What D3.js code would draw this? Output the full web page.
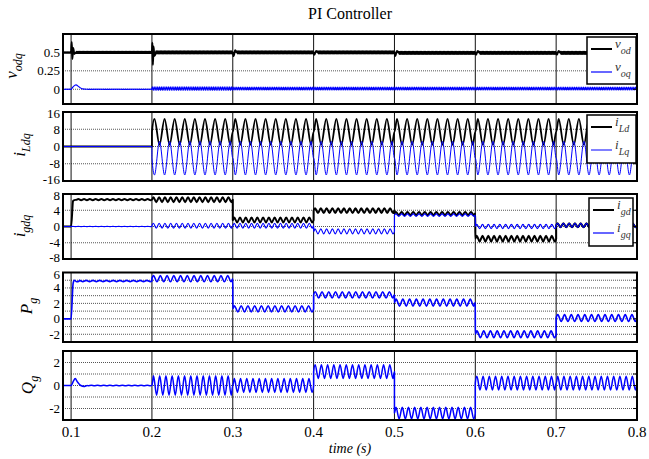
<!DOCTYPE html>
<html>
<head>
<meta charset="utf-8">
<script src="https://cdn.jsdelivr.net/npm/d3@7"></script>
<style>
  body { margin: 0; background: #fff; }
</style>
</head>
<body>
<script>
var width = 649, height = 459;

// segment edges shared by every series (s)
var tBreaks = [0.09, 0.1, 0.2, 0.3, 0.4, 0.5, 0.6, 0.7, 0.8];
var xTicks = [0.1, 0.2, 0.3, 0.4, 0.5, 0.6, 0.7, 0.8];

// v_odq : mean level and ripple half-amplitude per segment
var vodLevel  = [0.5, 0.5, 0.5, 0.5, 0.5, 0.495, 0.495, 0.495];
var vodRipple = [0.003, 0.008, 0.015, 0.015, 0.015, 0.015, 0.015, 0.015];
var voqLevel  = [0, 0, 0.01, 0.01, 0.01, 0.01, 0.01, 0.01];
var voqRipple = [0.002, 0.004, 0.025, 0.02, 0.02, 0.02, 0.02, 0.02];
var vodSpikes = [
  [[0.1, 0.5], [0.1008, 0.64], [0.1016, 0.41], [0.1026, 0.56], [0.104, 0.48], [0.106, 0.5]],
  [[0.2, 0.5], [0.2006, 0.63], [0.2012, 0.33], [0.202, 0.58], [0.203, 0.45], [0.205, 0.5]],
  [[0.3, 0.5], [0.301, 0.45], [0.303, 0.53], [0.305, 0.5]],
  [[0.4, 0.5], [0.401, 0.47], [0.403, 0.52], [0.405, 0.5]],
  [[0.5, 0.5], [0.501, 0.45], [0.503, 0.52], [0.505, 0.495]],
  [[0.6, 0.495], [0.601, 0.47], [0.603, 0.52], [0.605, 0.495]],
  [[0.7, 0.495], [0.701, 0.47], [0.703, 0.52], [0.705, 0.495]]
];
var voqSpikes = [
  [[0.1, 0], [0.103, 0.04], [0.106, 0.06], [0.11, 0.03], [0.114, 0.005], [0.12, 0]]
];

// i_Ldq
var iLdLevel  = [0, 0, 6.8, 6.8, 6.8, 6.8, 6.8, 6.8];
var iLdRipple = [0, 0, 6.0, 6.0, 6.0, 6.0, 6.0, 6.0];
var iLqLevel  = [0, 0, -5.4, -5.4, -5.4, -5.4, -5.4, -5.4];
var iLqRipple = [0, 0, 7.8, 7.8, 7.8, 7.8, 7.8, 7.8];

// i_gdq
var igdLevel  = [0, 6.6, 6.6, 1.6, 3.9, 3.2, -3.0, 0.3];
var igdRipple = [0, 0.15, 0.6, 0.6, 0.6, 0.4, 0.7, 0.5];
var igqLevel  = [0, 0, 0.2, 0.2, -1.2, 2.8, 0, 0.3];
var igqRipple = [0, 0.03, 0.6, 0.6, 0.6, 0.3, 0.5, 0.5];
var igdSpikes = [
  [[0.1, 0], [0.1025, 6.3], [0.104, 6.5], [0.107, 6.6]]
];

// P_g
var pgLevel  = [0, 4.9, 5.2, 1.3, 3.1, 2.1, -2.0, 0.1];
var pgRipple = [0, 0.08, 0.4, 0.4, 0.4, 0.45, 0.45, 0.45];
var pgSpikes = [
  [[0.1, 0], [0.1025, 4.6], [0.104, 5.0], [0.107, 4.8], [0.11, 4.9]]
];

// Q_g
var qgLevel  = [0, 0, 0, 0, 1.2, -2.4, 0.2, 0.2];
var qgRipple = [0, 0.02, 0.85, 0.6, 0.6, 0.5, 0.6, 0.6];
var qgSpikes = [
  [[0.1, 0], [0.103, 0.4], [0.105, 0.6], [0.108, 0.3], [0.112, 0], [0.116, -0.08], [0.12, 0]]
];

var serif = "'Liberation Serif', 'Times New Roman', serif";

var svg = d3.select("body").append("svg")
    .attr("width", width)
    .attr("height", height)
    .attr("font-family", serif);

var x = d3.scaleLinear().domain([0.09, 0.8]).range([63, 637]);

function buildSeries(level, ripple, cycles, sign, extra) {
  var pts = [];
  for (var i = 0; i < level.length; i++) {
    var t0 = tBreaks[i], t1 = tBreaks[i + 1];
    var n = Math.max(2, Math.round(cycles * (t1 - t0) / 0.1) * 2);
    var h = (t1 - t0) / n;
    pts.push([i === 0 ? t0 : t0 + 1e-5, level[i]]);
    if (ripple[i] > 0) {
      for (var k = 0; k < n; k++) {
        pts.push([t0 + (k + 0.5) * h, level[i] + sign * ripple[i] * (k % 2 ? -1 : 1)]);
      }
    }
    pts.push([t1, level[i]]);
  }
  (extra || []).forEach(function(g) {
    var a = g[0][0], b = g[g.length - 1][0];
    pts = pts.filter(function(p) { return p[0] < a || p[0] > b; }).concat(g);
  });
  pts.sort(function(p, q) { return p[0] - q[0]; });
  return pts;
}

var panels = [
  { top: 34, bottom: 104, domain: [-0.2, 0.75], ticks: [0, 0.25, 0.5], grid: [0, 0.25, 0.5],
    fmt: function(d) { return d === 0 ? "0" : String(d); },
    label: ["v", "odq"], labelPos: [17, 66],
    series: [
      { pts: buildSeries(vodLevel, vodRipple, 60, 1, vodSpikes), color: "#000", w: 2 },
      { pts: buildSeries(voqLevel, voqRipple, 45, 1, voqSpikes), color: "#0000ff", w: 1.1 }
    ],
    legend: { x: 587, y: 37, w: 49, h: 47, items: [["v", "od", "#000", 2], ["v", "oq", "#0000ff", 1.2]] } },
  { top: 112, bottom: 181, domain: [-16, 16], ticks: [-16, -8, 0, 8, 16], grid: [-8, 0, 8],
    fmt: String, label: ["i", "Ldq"], labelPos: [25, 145],
    series: [
      { pts: buildSeries(iLdLevel, iLdRipple, 8, 1, []), color: "#000", w: 1.8 },
      { pts: buildSeries(iLqLevel, iLqRipple, 8, -1, []), color: "#0000ff", w: 1 }
    ],
    legend: { x: 587, y: 115, w: 49, h: 48, items: [["i", "Ld", "#000", 2], ["i", "Lq", "#0000ff", 1]] } },
  { top: 194, bottom: 259, domain: [-8, 8], ticks: [-8, -4, 0, 4, 8], grid: [-4, 0, 4],
    fmt: String, label: ["i", "gdq"], labelPos: [25, 226],
    series: [
      { pts: buildSeries(igdLevel, igdRipple, 14, 1, igdSpikes), color: "#000", w: 2 },
      { pts: buildSeries(igqLevel, igqRipple, 14, 1, []), color: "#0000ff", w: 1.2 }
    ],
    legend: { x: 589, y: 198, w: 44, h: 48, items: [["i", "gd", "#000", 2], ["i", "gq", "#0000ff", 1.2]] } },
  { top: 272.5, bottom: 342, domain: [-3, 6], ticks: [-2, 0, 2, 4, 6], grid: [-2, -1, 0, 1, 2, 3, 4, 5],
    fmt: String, label: ["P", "g"], labelPos: [32, 306],
    series: [
      { pts: buildSeries(pgLevel, pgRipple, 12, 1, pgSpikes), color: "#0000ff", w: 1.6 }
    ] },
  { top: 351, bottom: 420, domain: [-3, 3], ticks: [-2, 0, 2], grid: [-2, -1, 0, 1, 2],
    fmt: String, label: ["Q", "g"], labelPos: [33, 385],
    series: [
      { pts: buildSeries(qgLevel, qgRipple, 13, 1, qgSpikes), color: "#0000ff", w: 1.5 }
    ] }
];

panels.forEach(function(p, pi) {
  var y = d3.scaleLinear().domain(p.domain).range([p.bottom, p.top]);
  var g = svg.append("g");

  g.append("clipPath").attr("id", "clip" + pi)
    .append("rect")
      .attr("x", x.range()[0]).attr("y", p.top)
      .attr("width", x.range()[1] - x.range()[0]).attr("height", p.bottom - p.top);

  // horizontal dotted grid
  g.selectAll(".hgrid").data(p.grid).enter().append("line")
      .attr("x1", x.range()[0]).attr("x2", x.range()[1])
      .attr("y1", function(d) { return y(d); }).attr("y2", function(d) { return y(d); })
      .attr("stroke", "#555").attr("stroke-width", 1).attr("stroke-dasharray", "1,1");

  // vertical grid
  g.selectAll(".vgrid").data(xTicks).enter().append("line")
      .attr("x1", function(d) { return x(d); }).attr("x2", function(d) { return x(d); })
      .attr("y1", p.top).attr("y2", p.bottom)
      .attr("stroke", "#111").attr("stroke-width", 1);

  var line = d3.line()
      .x(function(d) { return x(d[0]); })
      .y(function(d) { return y(d[1]); })
      .curve(d3.curveMonotoneX);

  p.series.forEach(function(s) {
    g.append("path")
        .attr("clip-path", "url(#clip" + pi + ")")
        .attr("d", line(s.pts))
        .attr("fill", "none")
        .attr("stroke", s.color)
        .attr("stroke-width", s.w)
        .attr("stroke-linejoin", "round");
  });

  // right-side inward ticks
  g.selectAll(".rtick").data(p.grid).enter().append("line")
      .attr("x1", x.range()[1] - 4).attr("x2", x.range()[1])
      .attr("y1", function(d) { return y(d); }).attr("y2", function(d) { return y(d); })
      .attr("stroke", "#000");

  // frame
  g.append("rect")
      .attr("x", x.range()[0]).attr("y", p.top)
      .attr("width", x.range()[1] - x.range()[0]).attr("height", p.bottom - p.top)
      .attr("fill", "none").attr("stroke", "#000").attr("stroke-width", 2);

  // y tick labels (edge labels nudged inward a little, like the original)
  var lo = p.domain[0], hi = p.domain[1];
  g.selectAll(".ylab").data(p.ticks).enter().append("text")
      .attr("x", 60)
      .attr("y", function(d) { return y(d) + (d === hi ? 1.5 : d === lo ? -1.5 : 0); })
      .attr("dy", "0.35em")
      .attr("text-anchor", "end")
      .attr("font-family", serif)
      .attr("font-size", 13)
      .text(p.fmt);

  // rotated y label with subscript
  var lab = g.append("text")
      .attr("transform", "translate(" + p.labelPos[0] + "," + p.labelPos[1] + ") rotate(-90)")
      .attr("text-anchor", "middle")
      .attr("font-family", serif)
      .attr("font-style", "italic")
      .attr("font-size", 17);
  lab.append("tspan").text(p.label[0]);
  lab.append("tspan").attr("dy", "0.45em").attr("font-size", 12).text(p.label[1]);

  if (p.legend) {
    var L = p.legend;
    var lg = g.append("g");
    lg.append("rect")
        .attr("x", L.x).attr("y", L.y).attr("width", L.w).attr("height", L.h)
        .attr("fill", "#fff").attr("stroke", "#000").attr("stroke-width", 1.5);
    L.items.forEach(function(it, k) {
      var ly = L.y + 12 + k * 23;
      lg.append("line")
          .attr("x1", L.x + 4).attr("x2", L.x + 25)
          .attr("y1", ly).attr("y2", ly)
          .attr("stroke", it[2]).attr("stroke-width", it[3]);
      var t = lg.append("text")
          .attr("x", L.x + 28).attr("y", ly - 1)
          .attr("font-family", serif)
          .attr("font-style", "italic")
          .attr("font-size", 13)
          .attr("fill", "#333");
      t.append("tspan").text(it[0]);
      t.append("tspan").attr("dy", "0.6em").attr("font-size", 10).text(it[1]);
    });
  }
});

// x tick labels under last panel
svg.selectAll(".xlab").data(xTicks).enter().append("text")
    .attr("x", function(d) { return x(d); })
    .attr("y", 437)
    .attr("text-anchor", "middle")
    .attr("font-size", 15)
    .text(function(d) { return d.toFixed(1); });

svg.append("text")
    .attr("x", 350).attr("y", 453)
    .attr("text-anchor", "middle")
    .attr("font-style", "italic")
    .attr("font-size", 14)
    .text("time (s)");

svg.append("text")
    .attr("x", 350).attr("y", 19)
    .attr("text-anchor", "middle")
    .attr("font-size", 16)
    .text("PI Controller");
</script>
</body>
</html>
